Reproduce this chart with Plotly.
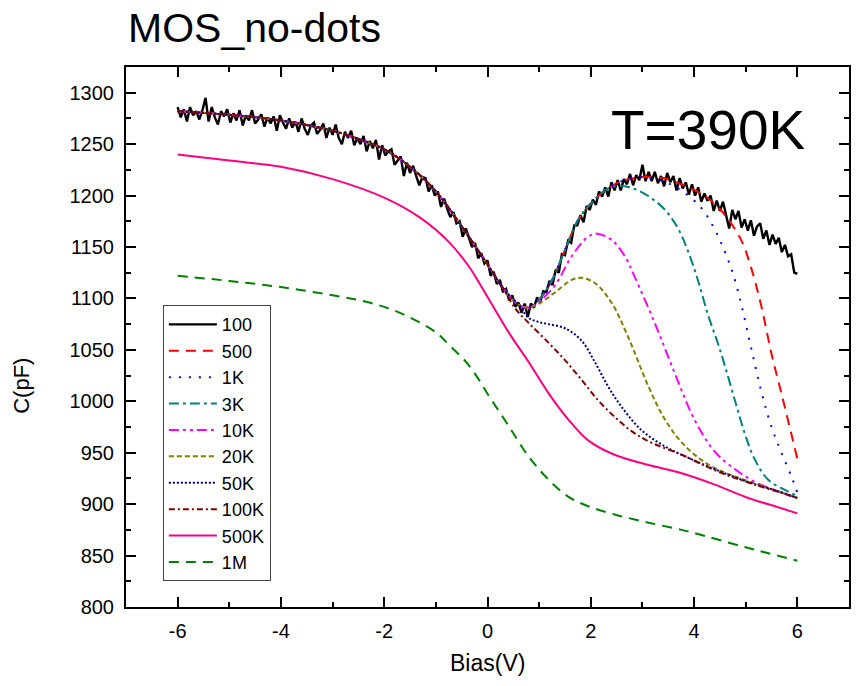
import numpy as np
import plotly.graph_objects as go

# ---------------- data ----------------
# 100 Hz sweep: raw (noisy) capacitance on a 0.06 V bias grid from -6 V to 6 V
BIAS_100 = np.round(np.arange(201) * 0.06 - 6.0, 2)
C_100 = [
    1286, 1276, 1284, 1272, 1286, 1278, 1282, 1274, 1283, 1295,
    1272, 1286, 1276, 1269, 1282, 1277, 1284, 1271, 1280, 1273,
    1283, 1268, 1278, 1273, 1283, 1270, 1274, 1279, 1267, 1276,
    1270, 1277, 1263, 1278, 1271, 1265, 1275, 1266, 1272, 1262,
    1275, 1265, 1259, 1268, 1271, 1260, 1264, 1270, 1256, 1266,
    1259, 1269, 1256, 1250, 1262, 1256, 1263, 1249, 1256, 1250,
    1258, 1243, 1253, 1246, 1254, 1235, 1249, 1239, 1243, 1245,
    1230, 1234, 1238, 1219, 1232, 1222, 1229, 1219, 1210, 1218,
    1217, 1204, 1210, 1200, 1204, 1189, 1197, 1187, 1179, 1184,
    1173, 1175, 1160, 1168, 1159, 1150, 1154, 1139, 1144, 1134,
    1137, 1122, 1126, 1114, 1118, 1106, 1109, 1098, 1103, 1092,
    1096, 1086, 1095, 1082, 1095, 1091, 1101, 1096, 1107, 1106,
    1117, 1113, 1128, 1125, 1143, 1142, 1156, 1154, 1171, 1171,
    1181, 1174, 1190, 1186, 1196, 1191, 1204, 1199, 1208, 1199,
    1213, 1205, 1215, 1205, 1216, 1211, 1221, 1210, 1220, 1215,
    1230, 1214, 1223, 1214, 1223, 1212, 1219, 1209, 1222, 1213,
    1219, 1205, 1217, 1207, 1213, 1201, 1211, 1200, 1208, 1194,
    1202, 1195, 1200, 1185, 1195, 1185, 1194, 1182, 1168, 1186,
    1177, 1185, 1169, 1177, 1166, 1176, 1161, 1170, 1173, 1158,
    1166, 1152, 1162, 1153, 1159, 1145, 1152, 1141, 1143, 1125,
    1124,
]

# smoothed sweeps, read at knots along each curve
RISE_X = [-6, -5, -4, -3, -2.5, -2, -1.5, -1, -0.5, 0, 0.3, 0.6, 0.8,
          1.0, 1.25, 1.5, 1.75, 2.0, 2.3, 2.6, 3.0]
RISE_C = [1282, 1278.5, 1273, 1263, 1255, 1245, 1228, 1204, 1170, 1133, 1110, 1094, 1091,
          1099, 1118, 1147, 1176, 1192, 1206, 1214, 1218]

BIAS_500 = RISE_X + [3.4, 3.8, 4.1, 4.4, 4.66, 4.92, 5.11, 5.3, 5.5, 5.7, 6.0]
C_500 = RISE_C + [1217, 1210, 1203, 1192, 1177, 1156, 1129, 1093, 1046, 1006, 944]

BIAS_1K = RISE_X + [3.4, 3.75, 4.14, 4.4, 4.6, 4.76, 4.92, 5.1, 5.3, 5.5, 5.7, 5.9, 6.0]
C_1K = RISE_C + [1214, 1205, 1188, 1167, 1145, 1123, 1093, 1053, 1010, 975, 949, 925, 911]

BIAS_3K = RISE_X[:19] + [2.5, 2.75, 3.1, 3.44, 3.7, 3.89, 4.08, 4.27, 4.45, 4.6, 4.79,
                         4.98, 5.17, 5.43, 5.75, 6.0]
C_3K = RISE_C[:19] + [1209, 1208, 1200, 1186, 1167, 1145, 1117, 1084, 1058, 1034, 1001,
                      969, 944, 924, 914, 908]

BIAS_10K = RISE_X[:13] + [1.0, 1.31, 1.63, 1.95, 2.12, 2.4, 2.66, 2.85, 3.24, 3.62, 4.01,
                          4.4, 4.79, 5.2, 5.6, 6.0]
C_10K = RISE_C[:13] + [1097, 1113, 1141, 1160, 1163, 1157, 1141, 1121, 1076, 1028, 982,
                       951, 934, 921, 913, 906]

BIAS_20K = RISE_X[:13] + [1.0, 1.31, 1.63, 1.82, 2.08, 2.4, 2.72, 3.12, 3.44, 3.76, 4.14,
                          4.53, 4.9, 5.3, 5.6, 6.0]
C_20K = RISE_C[:13] + [1095, 1106, 1118, 1120, 1115, 1096, 1063, 1014, 982, 960, 943,
                       932, 925, 918, 913, 906]

BIAS_50K = RISE_X[:12] + [0.8, 1.0, 1.18, 1.5, 1.82, 2.08, 2.34, 2.59, 2.98, 3.44, 3.89,
                          4.4, 4.8, 5.2, 5.6, 6.0]
C_50K = RISE_C[:12] + [1081, 1077, 1075, 1071, 1059, 1038, 1014, 995, 972, 956, 945,
                       934, 926, 919, 913, 906]

BIAS_100K = RISE_X[:11] + [0.54, 0.8, 1.18, 1.5, 1.82, 2.14, 2.46, 2.79, 3.12, 3.76, 4.4,
                           5.05, 5.69, 6.0]
C_100K = RISE_C[:11] + [1090, 1076, 1057, 1040, 1021, 1001, 985, 971, 961, 948, 933,
                        921, 911, 906]

BIAS_500K = [-6, -5, -4, -3, -2, -1.32, -0.75, -0.36, -0.16, 0.03, 0.41, 0.8, 1.18, 1.57,
             1.95, 2.46, 3.12, 3.76, 4.4, 5.05, 5.69, 6.0]
C_500K = [1240, 1234, 1228, 1216, 1198, 1179, 1155, 1131, 1115, 1099, 1067, 1038, 1008, 982,
          962, 948, 938, 930, 919, 906, 896, 891]

BIAS_1M = [-6, -5, -4, -3, -2.29, -1.65, -1.0, -0.75, -0.36, 0.03, 0.41, 0.8, 1.18, 1.57,
           1.95, 2.46, 3.12, 3.76, 4.0, 5.0, 6.0]
C_1M = [1122, 1117, 1111, 1103, 1096, 1085, 1067, 1055, 1035, 1005, 976, 946, 924, 907,
        898, 890, 882, 875, 872, 858, 845]

X_TICKS = [-6, -4, -2, 0, 2, 4, 6]
X_TICK_TEXT = ["-6", "-4", "-2", "0", "2", "4", "6"]

# ---------------- figure ----------------
FONT = "Liberation Sans, Arial, sans-serif"

series = [
    ("100", BIAS_100, C_100, "#000000", "solid", "linear", 2.4),
    ("500", BIAS_500, C_500, "#FF0000", "10px,7px", "spline", 2),
    ("1K", BIAS_1K, C_1K, "#0000FF", "2px,8px", "spline", 2),
    ("3K", BIAS_3K, C_3K, "#008080", "10px,4px,3px,4px", "spline", 2),
    ("10K", BIAS_10K, C_10K, "#FF00FF", "10px,4px,3px,4px,3px,4px", "spline", 2),
    ("20K", BIAS_20K, C_20K, "#808000", "5px,3px", "spline", 2),
    ("50K", BIAS_50K, C_50K, "#000080", "2px,2px", "spline", 2),
    ("100K", BIAS_100K, C_100K, "#800000", "6px,3px,2px,3px", "spline", 2),
    ("500K", BIAS_500K, C_500K, "#FF0080", "solid", "spline", 2),
    ("1M", BIAS_1M, C_1M, "#008000", "10px,7px", "spline", 2),
]

fig = go.Figure()
for name, xs, ys, color, dash, shape, width in series:
    line = dict(color=color, width=width, dash=dash, shape=shape)
    if shape == "spline":
        line["smoothing"] = 1.0
    fig.add_trace(go.Scatter(x=list(xs), y=list(ys), mode="lines", name=name, line=line))

axis_common = dict(
    showline=True, linewidth=2, linecolor="black", mirror="allticks",
    ticks="inside", ticklen=10, tickwidth=2, tickcolor="black",
    showgrid=False, zeroline=False,
    tickfont=dict(family=FONT, size=20, color="black"),
)

fig.update_xaxes(range=[-7, 7], tickmode="array", tickvals=X_TICKS, ticktext=X_TICK_TEXT,
                 minor=dict(ticks="inside", ticklen=5, tickwidth=2, dtick=1, tick0=-7, tickcolor="black"),
                 ticklabelstandoff=5, **axis_common)
fig.update_yaxes(range=[800, 1325], tick0=800, dtick=50,
                 minor=dict(ticks="inside", ticklen=5, tickwidth=2, dtick=25, tick0=800, tickcolor="black"),
                 ticklabelstandoff=6, **axis_common)

fig.update_layout(
    width=857, height=686,
    margin=dict(l=126, r=6, t=67, b=79),
    paper_bgcolor="white", plot_bgcolor="white",
    font=dict(family=FONT, color="black"),
    showlegend=True,
    legend=dict(
        x=0.051, y=0.559, xanchor="left", yanchor="top",
        bgcolor="white", bordercolor="#444444", borderwidth=1,
        font=dict(family=FONT, size=18, color="black"),
        itemwidth=48, tracegroupgap=0,
    ),
    annotations=[
        dict(text="MOS_no-dots", xref="paper", yref="paper", x=0.0, y=1.072,
             xanchor="left", yanchor="middle", showarrow=False,
             font=dict(family=FONT, size=41, color="black")),
        dict(text="T=390K", xref="paper", yref="paper", x=0.805, y=0.884,
             xanchor="center", yanchor="middle", showarrow=False,
             font=dict(family=FONT, size=55, color="black")),
        dict(text="Bias(V)", xref="paper", yref="paper", x=0.50, y=-0.104,
             xanchor="center", yanchor="middle", showarrow=False,
             font=dict(family=FONT, size=23, color="black")),
        dict(text="C(pF)", xref="paper", yref="paper", x=-0.145, y=0.410,
             xanchor="center", yanchor="middle", showarrow=False, textangle=-90,
             font=dict(family=FONT, size=22, color="black")),
    ],
)

fig.write_html("out.html")
